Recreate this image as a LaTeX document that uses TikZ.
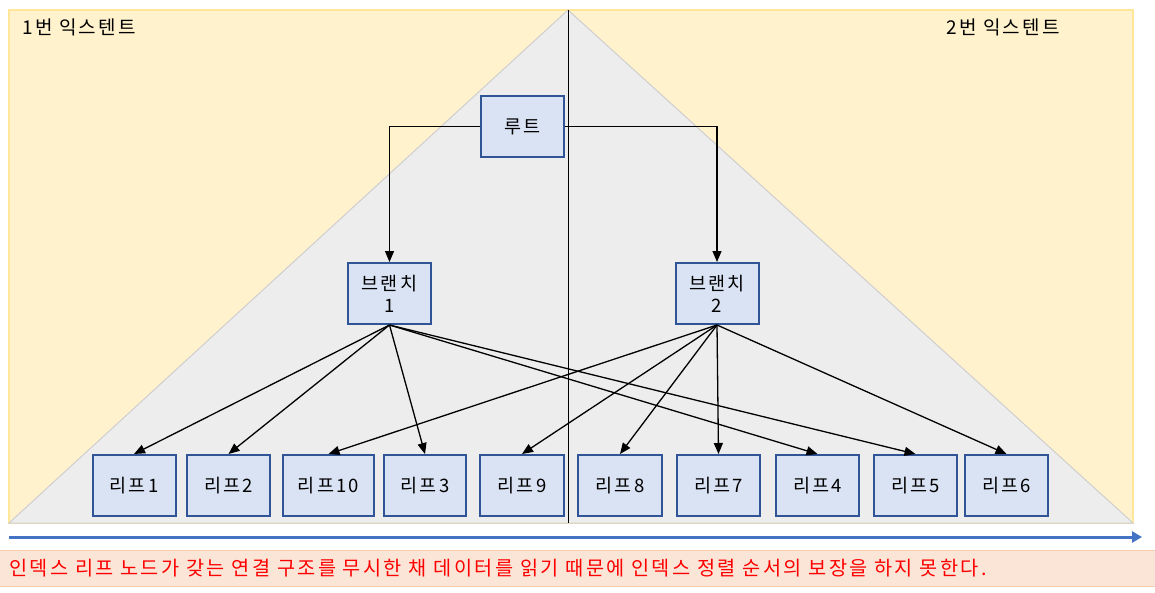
\documentclass[tikz,border=0pt]{standalone}
\usepackage{fontspec}
\setmainfont{Noto Sans CJK KR}[LetterSpace=12]
\usetikzlibrary{arrows.meta}
\definecolor{ylwfill}{HTML}{FFF2CC}
\definecolor{ylwdraw}{HTML}{FFE699}
\definecolor{trifill}{HTML}{EDEDED}
\definecolor{tridraw}{HTML}{D0CECE}
\definecolor{boxfill}{HTML}{DAE3F3}
\definecolor{boxdraw}{HTML}{2F5597}
\definecolor{arrblue}{HTML}{4472C4}
\definecolor{notefill}{HTML}{FBE5D6}
\definecolor{notedraw}{HTML}{F8CBAD}
\tikzset{
  box/.style={draw=boxdraw, fill=boxfill, line width=2pt, minimum height=61pt, inner sep=0pt, align=center, font=\fontsize{18.5}{22}\selectfont},
  conn/.style={draw=black, line width=1.3pt, -{Triangle[length=11pt,width=9pt]}},
  lbl/.style={font=\fontsize{19}{22}\selectfont, inner sep=0pt, anchor=west}
}
\begin{document}
\begin{tikzpicture}[x=1pt,y=-1pt]
\useasboundingbox (0,0) rectangle (1155,592);
% background extents
\draw[ylwdraw, fill=ylwfill, line width=1.5pt] (9,10) rectangle (1133,523);
\draw[tridraw, fill=trifill, line width=1pt] (568,10) -- (1133,523) -- (9,523) -- cycle;
\draw[black, line width=0.9pt] (568,10) -- (568,523);
\node[lbl] (e1) at (22,27) {1번 익스텐트};
\node[lbl] (e2) at (946,27) {2번 익스텐트};
% nodes
\node[box, minimum width=83pt] (root) at (522.5,126.5) {루트};
\node[box, minimum width=83pt] (b1) at (389.5,293.5) {브랜치\\1};
\node[box, minimum width=83pt] (b2) at (717,293.5) {브랜치\\2};
\node[box, minimum width=83pt] (l1) at (134,485.5) {리프1};
\node[box, minimum width=83pt] (l2) at (228.5,485.5) {리프2};
\node[box, minimum width=91pt] (l10) at (328.5,485.5) {리프10};
\node[box, minimum width=82pt] (l3) at (425,485.5) {리프3};
\node[box, minimum width=84pt] (l9) at (522,485.5) {리프9};
\node[box, minimum width=84pt] (l8) at (620,485.5) {리프8};
\node[box, minimum width=83pt] (l7) at (718.5,485.5) {리프7};
\node[box, minimum width=83pt] (l4) at (817.5,485.5) {리프4};
\node[box, minimum width=83pt] (l5) at (915.5,485.5) {리프5};
\node[box, minimum width=83pt] (l6) at (1006.5,485.5) {리프6};
% connectors
\draw[conn] (root.west) -| (b1.north);
\draw[conn] (root.east) -| (b2.north);
\foreach \t in {l1,l2,l3,l4,l5} \draw[conn] (b1.south) -- (\t.north);
\foreach \t in {l10,l9,l8,l7,l6} \draw[conn] (b2.south) -- (\t.north);
% bottom arrow
\coordinate (as) at (9,537);
\coordinate (ae) at (1142,537);
\draw[arrblue, line width=3pt, -{Triangle[length=10pt,width=11pt]}] (as) -- (ae);
% note
\draw[notedraw, fill=notefill, line width=1pt] (-1,550.5) rectangle (1156,586);
\node[lbl, text=red, font=\fontsize{19.7}{23}\selectfont] (note) at (9,568) {인덱스 리프 노드가 갖는 연결 구조를 무시한 채 데이터를 읽기 때문에 인덱스 정렬 순서의 보장을 하지 못한다.};
\end{tikzpicture}
\end{document}
